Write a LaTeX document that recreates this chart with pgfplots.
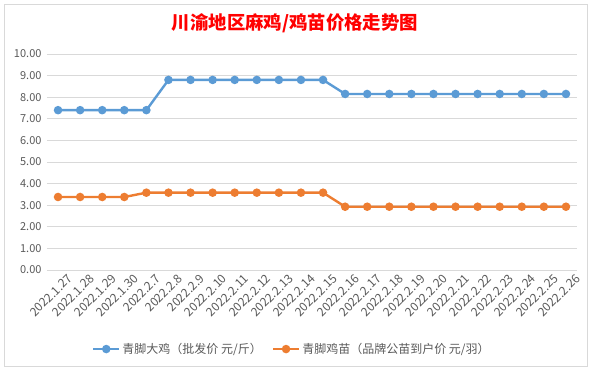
\documentclass[border=0pt]{standalone}
\usepackage{pgfplots}
\pgfplotsset{compat=1.18}
\usepackage{fontspec}
\setmainfont{Noto Sans CJK SC}
\definecolor{sblue}{HTML}{5B9BD5}
\definecolor{sorange}{HTML}{ED7D31}
\definecolor{gridc}{HTML}{D9D9D9}
\definecolor{txt}{HTML}{595959}
\begin{document}
\begin{tikzpicture}[x=1pt,y=1pt]
\path[use as bounding box] (0,0) rectangle (592,370);
\draw[gridc, line width=0.8pt] (4,4) rectangle (587,366);
\node[text=red, font=\bfseries\fontsize{18.4}{21}\selectfont] at (295,347) {川渝地区麻鸡/鸡苗价格走势图};
\begin{axis}[
  at={(47pt,100pt)}, anchor=south west,
  scale only axis, width=530pt, height=216pt,
  xmin=-0.5, xmax=23.5, ymin=0, ymax=10,
  ytick={0,1,...,10},
  xtick={0,1,...,23},
  xticklabels={2022.1.27,2022.1.28,2022.1.29,2022.1.30,2022.2.7,2022.2.8,2022.2.9,2022.2.10,2022.2.11,2022.2.12,2022.2.13,2022.2.14,2022.2.15,2022.2.16,2022.2.17,2022.2.18,2022.2.19,2022.2.20,2022.2.21,2022.2.22,2022.2.23,2022.2.24,2022.2.25,2022.2.26},
  /pgf/number format/assume math mode=true,
  yticklabel={\pgfmathprintnumber[fixed,fixed zerofill,precision=2]{\tick}},
  ymajorgrids, grid style={gridc, line width=0.8pt},
  axis line style={draw=none},
  major tick length=0pt,
  ticklabel style={text=txt, font=\fontsize{11}{12}\selectfont},
  xticklabel style={rotate=45, anchor=east, inner sep=0pt, font=\fontsize{12}{13}\selectfont, yshift=-13pt, xshift=4pt},
  yticklabel style={xshift=-2pt},
  legend style={draw=none, fill=none, at={(0.462,-0.366)}, anchor=center, font=\fontsize{12}{14}\selectfont, text=txt, /tikz/every even column/.append style={column sep=8pt}},
  legend columns=2,
  legend image code/.code={\draw[mark repeat=2,mark phase=2,#1] plot coordinates {(0pt,0pt) (13pt,0pt) (26pt,0pt)};},
  clip=false,
]
\addplot[sblue, line width=2.4pt, mark=*, mark size=3pt, mark options={solid}] coordinates {
(0,7.40)(1,7.40)(2,7.40)(3,7.40)(4,7.40)(5,8.80)(6,8.80)(7,8.80)(8,8.80)(9,8.80)(10,8.80)(11,8.80)(12,8.80)(13,8.15)(14,8.15)(15,8.15)(16,8.15)(17,8.15)(18,8.15)(19,8.15)(20,8.15)(21,8.15)(22,8.15)(23,8.15)};
\addlegendentry{青脚大鸡（批发价 元/斤）}
\addplot[sorange, line width=2.4pt, mark=*, mark size=3pt, mark options={solid}] coordinates {
(0,3.38)(1,3.38)(2,3.38)(3,3.38)(4,3.58)(5,3.58)(6,3.58)(7,3.58)(8,3.58)(9,3.58)(10,3.58)(11,3.58)(12,3.58)(13,2.93)(14,2.93)(15,2.93)(16,2.93)(17,2.93)(18,2.93)(19,2.93)(20,2.93)(21,2.93)(22,2.93)(23,2.93)};
\addlegendentry{青脚鸡苗（品牌公苗到户价 元/羽）}
\end{axis}
\end{tikzpicture}
\end{document}
